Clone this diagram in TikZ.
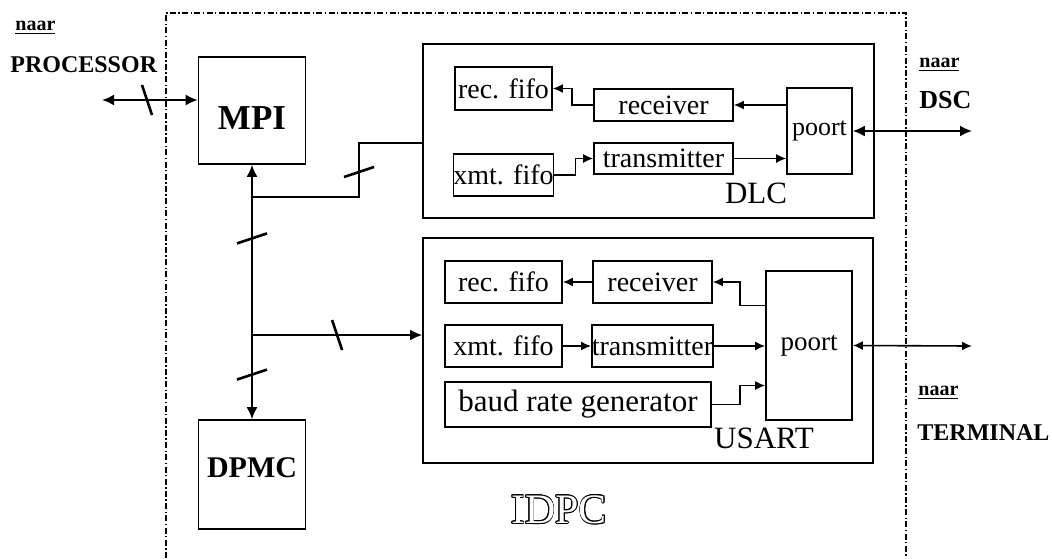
\documentclass[tikz,border=0pt]{standalone}
\usepackage{fontspec}
\setmainfont{Liberation Serif}
\usepackage{contour}
\contourlength{0.35pt}
\usetikzlibrary{arrows.meta, positioning, calc}
\tikzstyle{blok}   = [rectangle, draw=black, line width=0.8pt, inner sep=0pt,
                      text centered, font=\fontsize{14}{16}\selectfont]
\tikzstyle{kader}  = [rectangle, draw=black, line width=0.8pt, inner sep=0pt]
\tikzstyle{hoofd}  = [rectangle, draw=black, line width=0.8pt, inner sep=0pt,
                      minimum width=53.5pt, minimum height=53.5pt]
\tikzstyle{naam}   = [inner sep=0pt, font=\fontsize{15.5}{18}\selectfont]
\tikzstyle{extern} = [inner sep=0pt, anchor=west, font=\fontsize{12}{14}\selectfont\bfseries]
\tikzstyle{naar}   = [inner sep=0pt, anchor=west, font=\fontsize{10}{12}\selectfont\bfseries]
\tikzstyle{arr}    = [-{Latex[length=5pt,width=4.5pt]}, line width=0.8pt]
\tikzstyle{arr2}   = [{Latex[length=5pt,width=4.5pt]}-{Latex[length=5pt,width=4.5pt]}, line width=0.8pt]
\tikzstyle{busarr} = [-{Latex[length=6pt,width=5.5pt]}, line width=1pt]
\tikzstyle{busarr2}= [{Latex[length=6pt,width=5.5pt]}-{Latex[length=6pt,width=5.5pt]}, line width=1pt]
\tikzstyle{lijn}   = [line width=1pt]
\tikzstyle{grens}  = [line width=0.8pt, dash pattern=on 3pt off 1.2pt on 0.7pt off 1.2pt]
\tikzset{
  vstreep/.pic={\draw[line width=1.3pt] (-15,5) -- (15,-5);},
  hstreep/.pic={\draw[line width=1.3pt] (-5,-15) -- (5,15);}
}

\begin{document}
\begin{tikzpicture}[x=0.5pt, y=-0.5pt]
  \useasboundingbox (0,0) rectangle (1052,558);

  %% grens van de IDPC
  \draw[grens] (166,558) -- (166,13) -- (906,13) -- (906,558);
  \node[font=\fontsize{21}{24}\selectfont] (idpc) at (559,510)
      {{\color{white}\contour{black}{IDPC}}};

  %% hoofdblokken
  \node[hoofd, font=\fontsize{17.5}{20}\selectfont\bfseries,
        text height=19pt, text depth=0pt] (mpi) at (252,110.5) {MPI};
  \node[hoofd, minimum height=54.5pt, font=\fontsize{15}{18}\selectfont\bfseries,
        text height=10pt, text depth=7.5pt] (dpmc) at (252,474.5) {DPMC};
  \node[kader, minimum width=225.5pt, minimum height=87pt] (dlc) at (648.5,131) {};
  \node[kader, minimum width=225pt, minimum height=112.5pt] (usart) at (648,350.5) {};
  \node[naam] (dlcnaam) at (756,193) {DLC};
  \node[naam] (usartnaam) at (764,438) {USART};

  %% ── DLC ─────────────────────────────────────────────
  \node[blok, minimum width=48.5pt, minimum height=21.5pt] (recfifo1) at (503.5,88.5) {rec. fifo};
  \node[blok, minimum width=48.5pt, minimum height=21pt] (xmtfifo1) at (503.5,175) {xmt. fifo};
  \node[blok, minimum width=69.5pt, minimum height=16pt] (receiver1) at (663.5,105) {receiver};
  \node[blok, minimum width=69.5pt, minimum height=15.5pt] (transmitter1) at (663.5,158.5) {transmitter};
  \node[blok, minimum width=32.5pt, minimum height=43pt, font=\fontsize{13}{15}\selectfont]
      (poort1) at (819.5,131) {poort};

  \draw[arr] (poort1.west |- receiver1.east) -- (receiver1.east);
  \draw[arr] (receiver1.west) -- ++(-21,0) |- (recfifo1.east);
  \draw[arr] (xmtfifo1.east) -- ++(21,0) |- (transmitter1.west);
  \draw[arr] (transmitter1.east) -- (transmitter1.east -| poort1.west);

  %% ── USART ───────────────────────────────────────────
  \node[blok, minimum width=58.5pt, minimum height=21pt] (recfifo2) at (503.5,282) {rec. fifo};
  \node[blok, minimum width=59.5pt, minimum height=21pt] (receiver2) at (652.5,282) {receiver};
  \node[blok, minimum width=58.5pt, minimum height=21pt] (xmtfifo2) at (503.5,346) {xmt. fifo};
  \node[blok, minimum width=59.5pt, minimum height=21pt] (transmitter2) at (652.5,346) {transmitter};
  \node[blok, minimum width=133pt, minimum height=22.5pt, font=\fontsize{15.5}{18}\selectfont]
      (baud) at (578,404.5) {baud rate generator};
  \node[blok, minimum width=43pt, minimum height=74.5pt, font=\fontsize{13.5}{16}\selectfont]
      (poort2) at (809,345.5) {poort};

  \draw[arr] (receiver2.west) -- (recfifo2.east);
  \draw[arr] ([yshift=20pt]poort2.west) -- ++(-25,0) |- (receiver2.east);
  \draw[arr] (xmtfifo2.east) -- (transmitter2.west);
  \draw[arr] (transmitter2.east) -- (transmitter2.east -| poort2.west);
  \draw[arr] (baud.east) -- ++(28,0) |- ([yshift=-20pt]poort2.west);

  %% ── naar buiten ─────────────────────────────────────
  \node[naar] (naarproc) at (15,28) {\underline{naar}};
  \node[extern] (proc) at (10,65) {PROCESSOR};
  \node[naar] (naardsc) at (919,65) {\underline{naar}};
  \node[extern, font=\fontsize{13}{15}\selectfont\bfseries] (dsc) at (919,100) {DSC};
  \node[naar] (naarterm) at (918,393) {\underline{naar}};
  \node[extern] (term) at (917,433) {TERMINAL};

  \coordinate (procend) at (102,100);
  \coordinate (dscend) at (972,131);
  \coordinate (termend) at (972,346);

  \draw[busarr2] (procend) -- coordinate[pos=0.47] (m1) (procend -| mpi.west);
  \pic at (m1) {hstreep};
  \draw[busarr2] (poort1.east) -- (dscend);
  \draw[arr2] (poort2.east) -- (termend);

  %% ── bus tussen MPI, DLC, USART en DPMC ─────────────
  \coordinate (jdlc) at (mpi.south |- 0,197);
  \coordinate (jusart) at (mpi.south |- 0,335);
  \draw[busarr2] (mpi.south) -- (dpmc.north);
  \draw[lijn] (jdlc) -- ++(107,0) coordinate (knik) |- ([yshift=-6pt]dlc.west);
  \pic at ($(knik)+(0,-25)$) {vstreep};
  \pic at ($(jdlc)!0.3!(jusart)$) {vstreep};
  \draw[busarr] (jusart) -- coordinate[pos=0.5] (m4) (jusart -| usart.west);
  \pic at (m4) {hstreep};
  \pic at ($(jusart)!0.47!(dpmc.north)$) {vstreep};

\end{tikzpicture}
\end{document}
